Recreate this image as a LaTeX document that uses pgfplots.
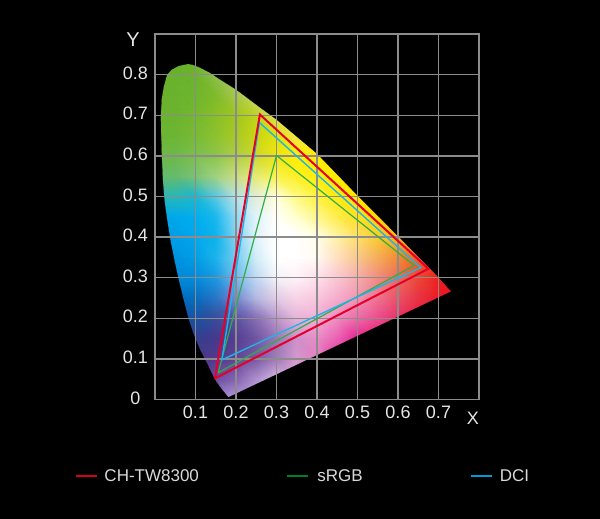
\documentclass[border=0pt]{standalone}
\usepackage{pgfplots}
\pgfplotsset{compat=1.18}
\usepackage{fontspec}
\setmainfont{Liberation Sans}
\begin{document}
\begin{tikzpicture}
\fill[black] (-155pt,-119.5pt) rectangle (445pt,399.5pt);
\begin{axis}[
    at={(0pt,0pt)}, anchor=south west,
    scale only axis, width=324pt, height=365.4pt,
    set layers=axis on top,
    xmin=0, xmax=0.8, ymin=0, ymax=0.9,
    xtick={0.1,0.2,...,0.8}, ytick={0,0.1,...,0.9},
    xticklabels={0.1,0.2,0.3,0.4,0.5,0.6,0.7,},
    yticklabels={\raisebox{-9pt}{0},0.1,0.2,0.3,0.4,0.5,0.6,0.7,0.8,},
    grid=major,
    major tick length=0pt,
    axis line style={draw=gray!90!white, line width=1.3pt},
    grid style={draw=gray!90!white, line width=1.3pt},
    tick label style={text=white!90!black, font=\fontsize{18}{20}\selectfont},
    yticklabel style={text width=30pt, align=center, xshift=-1pt, yshift=1.5pt},
    xticklabel style={yshift=-2.5pt},
    xlabel={X}, ylabel={Y},
    xlabel style={at={(axis description cs:0.981,-0.052)}, anchor=center, text=white!90!black, font=\fontsize{18}{20}\selectfont},
    ylabel style={at={(axis description cs:-0.068,0.984)}, anchor=center, rotate=-90, text=white!90!black, font=\fontsize{20}{22}\selectfont},
    legend columns=3,
    legend style={draw=none, fill=none, text=white!85!black, font=\fontsize{17}{18}\selectfont,
        at={(axis description cs:-0.2562,-0.2094)}, anchor=west,
        /tikz/column 1/.style={column sep=5pt}, /tikz/column 3/.style={column sep=7pt},
        /tikz/column 5/.style={column sep=5pt},
        /tikz/column 2/.style={column sep=85pt}, /tikz/column 4/.style={column sep=106pt}},
    legend image code/.code={\draw[#1] (0pt,0pt) -- (21pt,0pt);},
]
\addlegendimage{line width=1.3pt, color={rgb,255:red,214;green,0;blue,28}}
\addlegendimage{line width=1.3pt, color={rgb,255:red,0;green,125;blue,50}}
\addlegendimage{line width=1.3pt, color={rgb,255:red,0;green,155;blue,210}}

\addplot[surf, shader=interp, forget plot, mesh/rows=18, mesh/cols=16,
    mesh/color input=explicit mathparse,
    point meta={symbolic={\thisrow{r},\thisrow{g},\thisrow{b}}}]
table {
x y r g b
0.00 0.00 .6 .5 .8
0.05 0.00 .6 .5 .8
0.10 0.00 .6 .5 .8
0.15 0.00 .6 .5 .8
0.20 0.00 .72 .62 .87
0.25 0.00 .8 .72 .9
0.30 0.00 .88 .78 .92
0.35 0.00 .92 .78 .9
0.40 0.00 .92 .6 .8
0.45 0.00 .9 .3 .65
0.50 0.00 .9 .1 .55
0.55 0.00 .9 .08 .45
0.60 0.00 .9 .08 .35
0.65 0.00 .92 .08 .22
0.70 0.00 .93 .06 .14
0.75 0.00 .93 .05 .12
0.00 0.05 .4 .28 .6
0.05 0.05 .4 .28 .6
0.10 0.05 .4 .28 .6
0.15 0.05 .42 .3 .62
0.20 0.05 .52 .38 .7
0.25 0.05 .68 .56 .8
0.30 0.05 .85 .72 .9
0.35 0.05 .92 .72 .88
0.40 0.05 .92 .55 .78
0.45 0.05 .9 .25 .62
0.50 0.05 .9 .1 .55
0.55 0.05 .9 .08 .45
0.60 0.05 .9 .08 .35
0.65 0.05 .92 .08 .22
0.70 0.05 .93 .06 .14
0.75 0.05 .93 .05 .12
0.00 0.10 .3 .2 .52
0.05 0.10 .3 .2 .52
0.10 0.10 .3 .2 .52
0.15 0.10 .33 .22 .55
0.20 0.10 .38 .26 .58
0.25 0.10 .47 .35 .64
0.30 0.10 .63 .48 .73
0.35 0.10 .83 .6 .8
0.40 0.10 .9 .5 .76
0.45 0.10 .9 .22 .62
0.50 0.10 .9 .1 .55
0.55 0.10 .9 .08 .45
0.60 0.10 .9 .08 .35
0.65 0.10 .92 .08 .22
0.70 0.10 .93 .06 .14
0.75 0.10 .93 .05 .12
0.00 0.15 .18 .22 .52
0.05 0.15 .18 .22 .52
0.10 0.15 .2 .25 .55
0.15 0.15 .27 .22 .55
0.20 0.15 .33 .24 .58
0.25 0.15 .43 .33 .63
0.30 0.15 .6 .46 .72
0.35 0.15 .8 .57 .79
0.40 0.15 .91 .55 .78
0.45 0.15 .92 .38 .7
0.50 0.15 .9 .14 .58
0.55 0.15 .9 .08 .47
0.60 0.15 .9 .08 .35
0.65 0.15 .92 .08 .22
0.70 0.15 .93 .06 .14
0.75 0.15 .93 .05 .12
0.00 0.20 .06 .3 .62
0.05 0.20 .06 .3 .62
0.10 0.20 .1 .32 .63
0.15 0.20 .22 .3 .6
0.20 0.20 .36 .32 .63
0.25 0.20 .53 .43 .71
0.30 0.20 .73 .59 .8
0.35 0.20 .9 .7 .85
0.40 0.20 .95 .68 .83
0.45 0.20 .94 .55 .75
0.50 0.20 .93 .42 .66
0.55 0.20 .92 .3 .56
0.60 0.20 .91 .18 .42
0.65 0.20 .92 .1 .26
0.70 0.20 .93 .07 .15
0.75 0.20 .93 .05 .12
0.00 0.25 0 .42 .75
0.05 0.25 0 .42 .75
0.10 0.25 .02 .43 .75
0.15 0.25 .15 .46 .78
0.20 0.25 .45 .54 .82
0.25 0.25 .7 .72 .88
0.30 0.25 .88 .8 .9
0.35 0.25 .97 .83 .9
0.40 0.25 .97 .78 .87
0.45 0.25 .96 .68 .8
0.50 0.25 .95 .58 .7
0.55 0.25 .93 .45 .56
0.60 0.25 .92 .32 .4
0.65 0.25 .91 .2 .27
0.70 0.25 .92 .1 .15
0.75 0.25 .93 .05 .1
0.00 0.30 0 .55 .85
0.05 0.30 0 .55 .85
0.10 0.30 0 .55 .86
0.15 0.30 .1 .6 .88
0.20 0.30 .45 .72 .92
0.25 0.30 .75 .85 .95
0.30 0.30 .95 .95 .98
0.35 0.30 1 .95 .97
0.40 0.30 1 .88 .92
0.45 0.30 .98 .78 .82
0.50 0.30 .96 .68 .68
0.55 0.30 .95 .55 .5
0.60 0.30 .93 .42 .35
0.65 0.30 .92 .28 .22
0.70 0.30 .92 .13 .12
0.75 0.30 .93 .08 .1
0.00 0.35 0 .58 .88
0.05 0.35 0 .58 .88
0.10 0.35 0 .62 .9
0.15 0.35 .1 .7 .92
0.20 0.35 .45 .8 .94
0.25 0.35 .82 .93 .97
0.30 0.35 1 1 1
0.35 0.35 1 1 1
0.40 0.35 1 .98 .95
0.45 0.35 1 .88 .75
0.50 0.35 .98 .78 .55
0.55 0.35 .96 .68 .35
0.60 0.35 .95 .55 .2
0.65 0.35 .95 .38 .1
0.70 0.35 .93 .2 .08
0.75 0.35 .93 .2 .08
0.00 0.40 0 .62 .9
0.05 0.40 0 .62 .9
0.10 0.40 0 .66 .93
0.15 0.40 .05 .7 .92
0.20 0.40 .5 .82 .95
0.25 0.40 .88 .95 .98
0.30 0.40 1 1 1
0.35 0.40 1 1 1
0.40 0.40 1 1 .9
0.45 0.40 1 .95 .65
0.50 0.40 1 .88 .4
0.55 0.40 .98 .8 .2
0.60 0.40 .97 .72 .08
0.65 0.40 .95 .55 .05
0.70 0.40 .95 .55 .05
0.75 0.40 .95 .55 .05
0.00 0.45 0 .66 .92
0.05 0.45 0 .66 .92
0.10 0.45 0 .68 .93
0.15 0.45 .1 .72 .93
0.20 0.45 .55 .85 .95
0.25 0.45 .88 .95 .98
0.30 0.45 1 1 .97
0.35 0.45 1 1 .8
0.40 0.45 1 .97 .55
0.45 0.45 1 .93 .3
0.50 0.45 1 .88 .12
0.55 0.45 1 .85 0
0.60 0.45 1 .82 0
0.65 0.45 1 .82 0
0.70 0.45 1 .82 0
0.75 0.45 1 .82 0
0.00 0.50 .15 .72 .72
0.05 0.50 .15 .72 .72
0.10 0.50 .1 .72 .82
0.15 0.50 .35 .78 .88
0.20 0.50 .7 .88 .9
0.25 0.50 .88 .93 .85
0.30 0.50 1 1 .85
0.35 0.50 1 .98 .5
0.40 0.50 1 .95 .25
0.45 0.50 1 .92 .05
0.50 0.50 1 .9 0
0.55 0.50 1 .88 0
0.60 0.50 1 .88 0
0.65 0.50 1 .88 0
0.70 0.50 1 .88 0
0.75 0.50 1 .88 0
0.00 0.55 .4 .73 .42
0.05 0.55 .4 .73 .42
0.10 0.55 .48 .76 .45
0.15 0.55 .62 .82 .5
0.20 0.55 .78 .87 .5
0.25 0.55 .9 .92 .45
0.30 0.55 .98 .95 .3
0.35 0.55 1 .94 .15
0.40 0.55 1 .93 .05
0.45 0.55 1 .92 0
0.50 0.55 1 .92 0
0.55 0.55 1 .92 0
0.60 0.55 1 .92 0
0.65 0.55 1 .92 0
0.70 0.55 1 .92 0
0.75 0.55 1 .92 0
0.00 0.60 .43 .72 .28
0.05 0.60 .43 .72 .28
0.10 0.60 .48 .75 .3
0.15 0.60 .55 .77 .3
0.20 0.60 .68 .8 .28
0.25 0.60 .8 .85 .18
0.30 0.60 .93 .9 .08
0.35 0.60 1 .93 0
0.40 0.60 1 .93 0
0.45 0.60 1 .93 0
0.50 0.60 1 .93 0
0.55 0.60 1 .93 0
0.60 0.60 1 .93 0
0.65 0.60 1 .93 0
0.70 0.60 1 .93 0
0.75 0.60 1 .93 0
0.00 0.65 .42 .71 .2
0.05 0.65 .42 .71 .2
0.10 0.65 .47 .73 .2
0.15 0.65 .55 .76 .18
0.20 0.65 .65 .79 .14
0.25 0.65 .78 .84 .08
0.30 0.65 .88 .88 .05
0.35 0.65 .95 .9 .3
0.40 0.65 .95 .9 .3
0.45 0.65 .95 .9 .3
0.50 0.65 .95 .9 .3
0.55 0.65 .95 .9 .3
0.60 0.65 .95 .9 .3
0.65 0.65 .95 .9 .3
0.70 0.65 .95 .9 .3
0.75 0.65 .95 .9 .3
0.00 0.70 .42 .7 .18
0.05 0.70 .42 .7 .18
0.10 0.70 .45 .72 .18
0.15 0.70 .53 .75 .15
0.20 0.70 .62 .78 .12
0.25 0.70 .75 .83 .12
0.30 0.70 .85 .87 .35
0.35 0.70 .85 .87 .35
0.40 0.70 .85 .87 .35
0.45 0.70 .85 .87 .35
0.50 0.70 .85 .87 .35
0.55 0.70 .85 .87 .35
0.60 0.70 .85 .87 .35
0.65 0.70 .85 .87 .35
0.70 0.70 .85 .87 .35
0.75 0.70 .85 .87 .35
0.00 0.75 .41 .7 .18
0.05 0.75 .41 .7 .18
0.10 0.75 .43 .71 .18
0.15 0.75 .5 .73 .17
0.20 0.75 .65 .78 .3
0.25 0.75 .78 .84 .5
0.30 0.75 .78 .84 .5
0.35 0.75 .78 .84 .5
0.40 0.75 .78 .84 .5
0.45 0.75 .78 .84 .5
0.50 0.75 .78 .84 .5
0.55 0.75 .78 .84 .5
0.60 0.75 .78 .84 .5
0.65 0.75 .78 .84 .5
0.70 0.75 .78 .84 .5
0.75 0.75 .78 .84 .5
0.00 0.80 .4 .7 .17
0.05 0.80 .4 .7 .17
0.10 0.80 .42 .7 .17
0.15 0.80 .55 .75 .3
0.20 0.80 .65 .78 .4
0.25 0.80 .65 .78 .4
0.30 0.80 .65 .78 .4
0.35 0.80 .65 .78 .4
0.40 0.80 .65 .78 .4
0.45 0.80 .65 .78 .4
0.50 0.80 .65 .78 .4
0.55 0.80 .65 .78 .4
0.60 0.80 .65 .78 .4
0.65 0.80 .65 .78 .4
0.70 0.80 .65 .78 .4
0.75 0.80 .65 .78 .4
0.00 0.85 .4 .7 .17
0.05 0.85 .4 .7 .17
0.10 0.85 .42 .7 .17
0.15 0.85 .55 .75 .3
0.20 0.85 .65 .78 .4
0.25 0.85 .65 .78 .4
0.30 0.85 .65 .78 .4
0.35 0.85 .65 .78 .4
0.40 0.85 .65 .78 .4
0.45 0.85 .65 .78 .4
0.50 0.85 .65 .78 .4
0.55 0.85 .65 .78 .4
0.60 0.85 .65 .78 .4
0.65 0.85 .65 .78 .4
0.70 0.85 .65 .78 .4
0.75 0.85 .65 .78 .4
};

% everything outside the locus
\addplot[fill=black, draw=black, line width=0.2pt, even odd rule, forget plot] coordinates {
(.181,0) (.8,0) (.8,.9) (0,.9) (0,0) (.181,0) (.181,.005)
(.163,.027) (.148,.048) (.13,.085) (.111,.122) (.095,.16) (.082,.2)
(.069,.25) (.057,.3) (.047,.345) (.038,.39) (.03,.44) (.023,.49)
(.019,.54) (.016,.608) (.0145,.66) (.014,.70) (.016,.74) (.021,.77)
(.029,.80) (.041,.813) (.058,.822) (.082,.827) (.096,.824) (.111,.818)
(.136,.805) (.16,.789) (.2,.764) (.259,.72) (.3,.69) (.4,.606)
(.5,.503) (.6,.403) (.695,.307) (.732,.266) (.181,.005)
};

\addplot[on layer=axis foreground, forget plot, line width=1.2pt, color={rgb,255:red,47;green,174;blue,74}, line join=miter]
    coordinates {(.156,.066) (.30,.601) (.64,.33) (.156,.066)};
\addplot[on layer=axis foreground, forget plot, line width=1.4pt, color={rgb,255:red,29;green,181;blue,229}, line join=miter]
    coordinates {(.165,.0975) (.258,.682) (.656,.325) (.165,.0975)};
\addplot[on layer=axis foreground, forget plot, line width=2pt, color={rgb,255:red,228;green,0;blue,43}, line join=miter]
    coordinates {(.148,.052) (.259,.702) (.675,.322) (.148,.052)};
\legend{CH-TW8300,sRGB,DCI}
\end{axis}
\end{tikzpicture}
\end{document}
